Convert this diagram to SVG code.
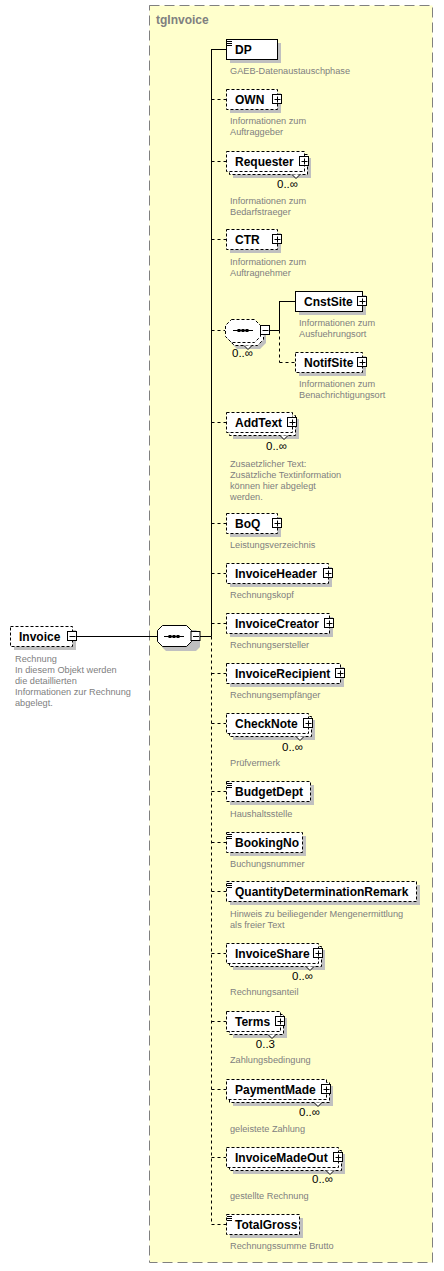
<svg xmlns="http://www.w3.org/2000/svg" xmlns:xlink="http://www.w3.org/1999/xlink" width="444" height="1271" viewBox="0 0 444 1271">
<style>
.name{font-family:"Liberation Sans",Arial,sans-serif;font-weight:bold;font-size:12px;fill:#000}
.title{font-family:"Liberation Sans",Arial,sans-serif;font-weight:bold;font-size:12px;fill:#808080}
.desc{font-family:"Liberation Sans",Arial,sans-serif;font-size:9.2px;fill:#808080}
.mult{font-family:"Liberation Sans",Arial,sans-serif;font-size:11.5px;fill:#000}
.box{fill:#fff;stroke:#000;stroke-width:1}
.opt{stroke-dasharray:3,2}
.shadow{fill:#c0c0c0}
.conn{stroke:#000;stroke-width:1;fill:none}
.dash{stroke-dasharray:3,3}
.notch{fill:#fff;stroke:#000;stroke-width:1}
</style>
<defs>
<g id="plus"><rect x="-4.5" y="-4.5" width="9" height="9" fill="#fff" stroke="#000"/><path d="M-2.5 0.5h6M0.5 -2.5v6" stroke="#000"/></g>
<g id="minus"><rect x="-4.5" y="-4.5" width="9" height="9" fill="#fff" stroke="#000"/><path d="M-2.5 0.5h6" stroke="#000"/></g>
<g id="simple"><path d="M1 2.5h5M1 4.5h5M1 6.5h5" stroke="#000"/></g>
<g id="seqsym"><path d="M-10 0.5h20" stroke="#000"/><rect x="-5.5" y="-1" width="3" height="3" fill="#000"/><rect x="-1.5" y="-1" width="3" height="3" fill="#000"/><rect x="2.5" y="-1" width="3" height="3" fill="#000"/></g>
</defs>

<g id="tgInvoice">
<rect x="149.5" y="5.5" width="283" height="1257" fill="#ffffcc" stroke="#808080" stroke-dasharray="10,5"/>
<text class="title" x="156" y="24">tgInvoice</text>
</g>

<g id="connectors">
<path class="conn" d="M77 636.5H157"/>
<path class="conn" d="M200 636.5H211.5"/>
<path class="conn" d="M211.5 49V636.5"/>
<path class="conn dash" d="M211.5 636.5V1224.5"/>
<path class="conn" d="M211.5 49.5H226"/>
<path class="conn dash" d="M211.5 99.5H226M211.5 161.5H226M211.5 239.5H226M211.5 330.5H225M211.5 422.5H226M211.5 523.5H226M211.5 573.5H226M211.5 623.5H226M211.5 673.5H226M211.5 723.5H226M211.5 791.5H226M211.5 842.5H226M211.5 891.5H226M211.5 953.5H226M211.5 1021.5H226M211.5 1089.5H226M211.5 1157.5H226M211.5 1224.5H226"/>
<path class="conn" d="M270 330.5H279.5M279.5 301V330.5M279.5 301.5H295"/>
<path class="conn dash" d="M279.5 330.5V362.5M279.5 362.5H295"/>
</g>

<g id="Invoice">
<rect class="shadow" x="14" y="630" width="62" height="20"/>
<rect class="box opt" x="10.5" y="626.5" width="62" height="20"/>
<text class="name" x="19" y="641">Invoice</text>
<use href="#minus" x="72" y="636"/>
<text class="desc" x="15" y="662">Rechnung</text>
<text class="desc" x="15" y="673">In diesem Objekt werden</text>
<text class="desc" x="15" y="684">die detaillierten</text>
<text class="desc" x="15" y="695">Informationen zur Rechnung</text>
<text class="desc" x="15" y="706">abgelegt.</text>
</g>

<g id="sequence">
<path class="shadow" d="M166 630H196L200 634V647L196 651H166L162 647V634Z"/>
<path class="box" d="M162.5 625.5H186.5L191.5 630.5V641.5L186.5 646.5H162.5L157.5 641.5V630.5Z"/>
<use href="#seqsym" x="174" y="636"/>
<use href="#minus" x="195.5" y="636"/>
</g>

<g id="DP">
<rect class="shadow" x="230" y="43" width="51" height="20"/>
<rect class="box" x="226.5" y="39.5" width="51" height="20"/>
<use href="#simple" x="226" y="39"/>
<text class="name" x="235" y="54">DP</text>
<text class="desc" x="230" y="74">GAEB-Datenaustauschphase</text>
</g>

<g id="OWN">
<rect class="shadow" x="230" y="93" width="51" height="20"/>
<rect class="box opt" x="226.5" y="89.5" width="51" height="20"/>
<text class="name" x="235" y="104">OWN</text>
<use href="#plus" x="277" y="99"/>
<text class="desc" x="230" y="124">Informationen zum</text>
<text class="desc" x="230" y="135">Auftraggeber</text>
</g>

<g id="Requester">
<rect class="shadow" x="233" y="158" width="78" height="20"/>
<rect class="box opt" x="229.5" y="154.5" width="78" height="20"/>
<rect class="box opt" x="226.5" y="151.5" width="78" height="20"/>
<path class="notch" d="M292 174.5L296 178.5L300 174.5"/>
<text class="name" x="235" y="166">Requester</text>
<use href="#plus" x="304" y="161"/>
<text class="mult" x="298" y="188" text-anchor="end">0..∞</text>
<text class="desc" x="230" y="204">Informationen zum</text>
<text class="desc" x="230" y="215">Bedarfstraeger</text>
</g>

<g id="CTR">
<rect class="shadow" x="230" y="233" width="51" height="20"/>
<rect class="box opt" x="226.5" y="229.5" width="51" height="20"/>
<text class="name" x="235" y="244">CTR</text>
<use href="#plus" x="277" y="239"/>
<text class="desc" x="230" y="265">Informationen zum</text>
<text class="desc" x="230" y="276">Auftragnehmer</text>
</g>

<g id="choice">
<path class="shadow" d="M237 326H260L266 332V343L260 349H237L231 343V332Z"/>
<path class="box opt" d="M234.5 322.5H257.5L263.5 328.5V339.5L257.5 345.5H234.5L228.5 339.5V328.5Z"/>
<path class="box opt" d="M231.5 319.5H254.5L260.5 325.5V336.5L254.5 342.5H231.5L225.5 336.5V325.5Z"/>
<path class="notch" d="M244 345.5L248 349.5L252 345.5"/>
<use href="#seqsym" x="243" y="330"/>
<use href="#minus" x="265" y="330"/>
<text class="mult" x="232" y="357">0..∞</text>
</g>

<g id="CnstSite">
<rect class="shadow" x="299" y="295" width="67" height="20"/>
<rect class="box" x="295.5" y="291.5" width="67" height="20"/>
<text class="name" x="304" y="306">CnstSite</text>
<use href="#plus" x="362" y="301"/>
<text class="desc" x="299" y="326">Informationen zum</text>
<text class="desc" x="299" y="337">Ausfuehrungsort</text>
</g>

<g id="NotifSite">
<rect class="shadow" x="299" y="356" width="67" height="20"/>
<rect class="box opt" x="295.5" y="352.5" width="67" height="20"/>
<text class="name" x="304" y="367">NotifSite</text>
<use href="#plus" x="362" y="362"/>
<text class="desc" x="299" y="387">Informationen zum</text>
<text class="desc" x="299" y="398">Benachrichtigungsort</text>
</g>

<g id="AddText">
<rect class="shadow" x="233" y="419" width="66" height="20"/>
<rect class="box opt" x="229.5" y="415.5" width="66" height="20"/>
<rect class="box opt" x="226.5" y="412.5" width="66" height="20"/>
<path class="notch" d="M280 435.5L284 439.5L288 435.5"/>
<text class="name" x="235" y="427">AddText</text>
<use href="#plus" x="292" y="422"/>
<text class="mult" x="287" y="450" text-anchor="end">0..∞</text>
<text class="desc" x="230" y="467">Zusaetzlicher Text:</text>
<text class="desc" x="230" y="478">Zusätzliche Textinformation</text>
<text class="desc" x="230" y="489">können hier abgelegt</text>
<text class="desc" x="230" y="500">werden.</text>
</g>

<g id="BoQ">
<rect class="shadow" x="230" y="517" width="51" height="20"/>
<rect class="box opt" x="226.5" y="513.5" width="51" height="20"/>
<text class="name" x="235" y="528">BoQ</text>
<use href="#plus" x="277" y="523"/>
<text class="desc" x="230" y="548">Leistungsverzeichnis</text>
</g>

<g id="InvoiceHeader">
<rect class="shadow" x="230" y="567" width="102" height="20"/>
<rect class="box opt" x="226.5" y="563.5" width="102" height="20"/>
<text class="name" x="235" y="578">InvoiceHeader</text>
<use href="#plus" x="328" y="573"/>
<text class="desc" x="230" y="598">Rechnungskopf</text>
</g>

<g id="InvoiceCreator">
<rect class="shadow" x="230" y="617" width="103" height="20"/>
<rect class="box opt" x="226.5" y="613.5" width="103" height="20"/>
<text class="name" x="235" y="628">InvoiceCreator</text>
<use href="#plus" x="329" y="623"/>
<text class="desc" x="230" y="648">Rechnungsersteller</text>
</g>

<g id="InvoiceRecipient">
<rect class="shadow" x="230" y="667" width="114" height="20"/>
<rect class="box opt" x="226.5" y="663.5" width="114" height="20"/>
<text class="name" x="235" y="678">InvoiceRecipient</text>
<use href="#plus" x="340" y="673"/>
<text class="desc" x="230" y="698">Rechnungsempfänger</text>
</g>

<g id="CheckNote">
<rect class="shadow" x="233" y="720" width="82" height="20"/>
<rect class="box opt" x="229.5" y="716.5" width="82" height="20"/>
<rect class="box opt" x="226.5" y="713.5" width="82" height="20"/>
<path class="notch" d="M296 736.5L300 740.5L304 736.5"/>
<text class="name" x="235" y="728">CheckNote</text>
<use href="#plus" x="308" y="723"/>
<text class="mult" x="303" y="751" text-anchor="end">0..∞</text>
<text class="desc" x="230" y="766">Prüfvermerk</text>
</g>

<g id="BudgetDept">
<rect class="shadow" x="230" y="785" width="84" height="20"/>
<rect class="box opt" x="226.5" y="781.5" width="84" height="20"/>
<use href="#simple" x="226" y="781"/>
<text class="name" x="235" y="796">BudgetDept</text>
<text class="desc" x="230" y="817">Haushaltsstelle</text>
</g>

<g id="BookingNo">
<rect class="shadow" x="230" y="836" width="76" height="20"/>
<rect class="box opt" x="226.5" y="832.5" width="76" height="20"/>
<use href="#simple" x="226" y="832"/>
<text class="name" x="235" y="847">BookingNo</text>
<text class="desc" x="230" y="867">Buchungsnummer</text>
</g>

<g id="QuantityDeterminationRemark">
<rect class="shadow" x="230" y="885" width="190" height="20"/>
<rect class="box opt" x="226.5" y="881.5" width="190" height="20"/>
<use href="#simple" x="226" y="881"/>
<text class="name" x="235" y="896">QuantityDeterminationRemark</text>
<text class="desc" x="230" y="917">Hinweis zu beiliegender Mengenermittlung</text>
<text class="desc" x="230" y="928">als freier Text</text>
</g>

<g id="InvoiceShare">
<rect class="shadow" x="233" y="950" width="92" height="20"/>
<rect class="box opt" x="229.5" y="946.5" width="92" height="20"/>
<rect class="box opt" x="226.5" y="943.5" width="92" height="20"/>
<path class="notch" d="M306 966.5L310 970.5L314 966.5"/>
<text class="name" x="235" y="958">InvoiceShare</text>
<use href="#plus" x="318" y="953"/>
<text class="mult" x="313" y="980" text-anchor="end">0..∞</text>
<text class="desc" x="230" y="995">Rechnungsanteil</text>
</g>

<g id="Terms">
<rect class="shadow" x="233" y="1018" width="54" height="20"/>
<rect class="box opt" x="229.5" y="1014.5" width="54" height="20"/>
<rect class="box opt" x="226.5" y="1011.5" width="54" height="20"/>
<path class="notch" d="M268 1034.5L272 1038.5L276 1034.5"/>
<text class="name" x="235" y="1026">Terms</text>
<use href="#plus" x="280" y="1021"/>
<text class="mult" x="275" y="1048" text-anchor="end">0..3</text>
<text class="desc" x="230" y="1063">Zahlungsbedingung</text>
</g>

<g id="PaymentMade">
<rect class="shadow" x="233" y="1086" width="100" height="20"/>
<rect class="box opt" x="229.5" y="1082.5" width="100" height="20"/>
<rect class="box opt" x="226.5" y="1079.5" width="100" height="20"/>
<path class="notch" d="M314 1102.5L318 1106.5L322 1102.5"/>
<text class="name" x="235" y="1094">PaymentMade</text>
<use href="#plus" x="326" y="1089"/>
<text class="mult" x="320" y="1116" text-anchor="end">0..∞</text>
<text class="desc" x="230" y="1132">geleistete Zahlung</text>
</g>

<g id="InvoiceMadeOut">
<rect class="shadow" x="233" y="1154" width="112" height="20"/>
<rect class="box opt" x="229.5" y="1150.5" width="112" height="20"/>
<rect class="box opt" x="226.5" y="1147.5" width="112" height="20"/>
<path class="notch" d="M326 1170.5L330 1174.5L334 1170.5"/>
<text class="name" x="235" y="1162">InvoiceMadeOut</text>
<use href="#plus" x="338" y="1157"/>
<text class="mult" x="333" y="1183" text-anchor="end">0..∞</text>
<text class="desc" x="230" y="1199">gestellte Rechnung</text>
</g>

<g id="TotalGross">
<rect class="shadow" x="230" y="1218" width="73" height="20"/>
<rect class="box opt" x="226.5" y="1214.5" width="73" height="20"/>
<use href="#simple" x="226" y="1214"/>
<text class="name" x="235" y="1229">TotalGross</text>
<text class="desc" x="230" y="1249">Rechnungssumme Brutto</text>
</g>
</svg>
